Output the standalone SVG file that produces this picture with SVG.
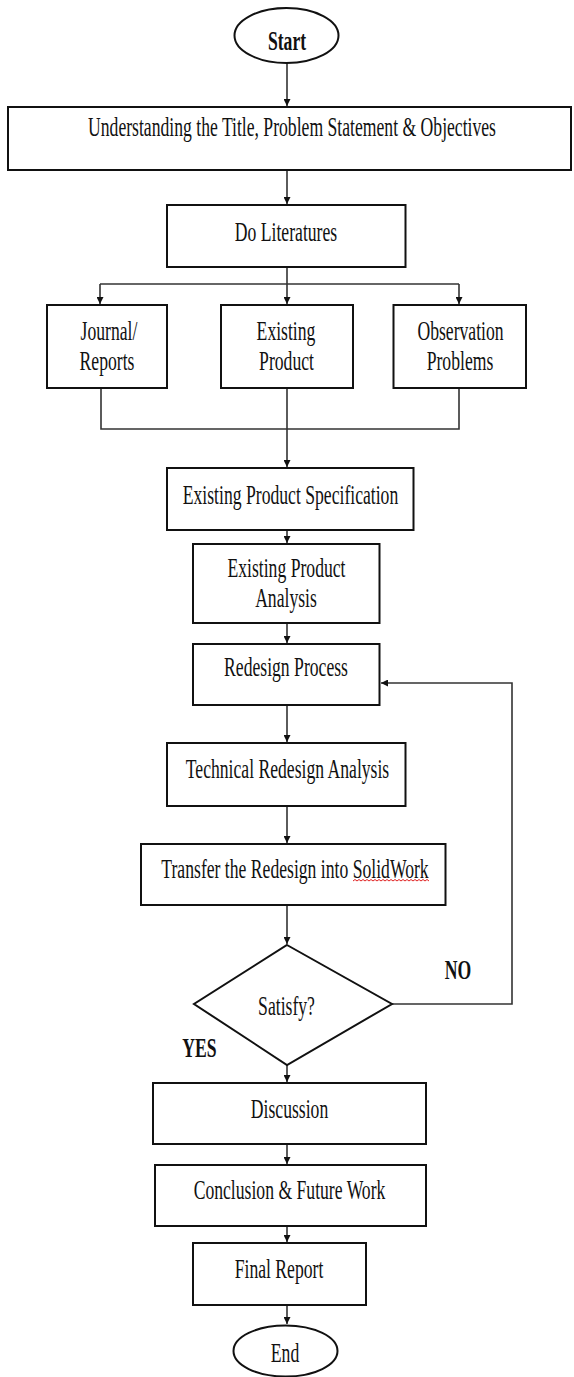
<svg xmlns="http://www.w3.org/2000/svg" width="574" height="1377" viewBox="0 0 574 1377">
<style>
.box{fill:#fff;stroke:#111;stroke-width:2}
.t{font-family:"Liberation Serif","Times New Roman",serif;font-size:28px;fill:#111;text-anchor:middle}
.b{font-weight:bold}
.c{fill:none;stroke:#333;stroke-width:1.6}
</style>
<defs>
<marker id="ah" viewBox="0 0 8 8" refX="8" refY="4" markerWidth="7" markerHeight="7" markerUnits="userSpaceOnUse" orient="auto">
<path d="M0,0 L8,4 L0,8 z" fill="#111"/>
</marker>
</defs>
<rect width="574" height="1377" fill="#fff"/>
<g id="connectors">
<line class="c" x1="287" y1="63" x2="287" y2="106" marker-end="url(#ah)"/>
<line class="c" x1="287" y1="170" x2="287" y2="204" marker-end="url(#ah)"/>
<polyline class="c" points="287,267 287,284"/>
<line class="c" x1="100" y1="284" x2="459" y2="284"/>
<line class="c" x1="100" y1="284" x2="100" y2="304" marker-end="url(#ah)"/>
<line class="c" x1="287" y1="284" x2="287" y2="304" marker-end="url(#ah)"/>
<line class="c" x1="459" y1="284" x2="459" y2="304" marker-end="url(#ah)"/>
<polyline class="c" points="101,388 101,429 459,429 459,388"/>
<line class="c" x1="287" y1="388" x2="287" y2="467" marker-end="url(#ah)"/>
<line class="c" x1="287" y1="530" x2="287" y2="543" marker-end="url(#ah)"/>
<line class="c" x1="287" y1="623" x2="287" y2="643" marker-end="url(#ah)"/>
<line class="c" x1="287" y1="705" x2="287" y2="742" marker-end="url(#ah)"/>
<line class="c" x1="287" y1="806" x2="287" y2="843" marker-end="url(#ah)"/>
<line class="c" x1="287" y1="905" x2="287" y2="944" marker-end="url(#ah)"/>
<line class="c" x1="287" y1="1065" x2="287" y2="1082" marker-end="url(#ah)"/>
<line class="c" x1="287" y1="1144" x2="287" y2="1164" marker-end="url(#ah)"/>
<line class="c" x1="287" y1="1226" x2="287" y2="1242" marker-end="url(#ah)"/>
<line class="c" x1="287" y1="1305" x2="287" y2="1324" marker-end="url(#ah)"/>
<polyline class="c" points="392,1004 512,1004 512,683 381,683" marker-end="url(#ah)"/>
</g>
<g id="start">
<ellipse class="box" cx="286.5" cy="35.5" rx="52" ry="27.5"/>
<text class="t b" transform="translate(287,50) scale(0.63,1)">Start</text>
</g>
<g id="understanding">
<rect class="box" x="8" y="107" width="563" height="63"/>
<text class="t" transform="translate(292,136) scale(0.63,1)">Understanding the Title, Problem Statement &amp; Objectives</text>
</g>
<g id="literatures">
<rect class="box" x="167" y="205" width="238.5" height="62"/>
<text class="t" transform="translate(286,241) scale(0.63,1)">Do Literatures</text>
</g>
<g id="journal">
<rect class="box" x="47" y="305" width="120" height="83"/>
<text class="t" transform="translate(109,340) scale(0.63,1)">Journal/</text>
<text class="t" transform="translate(107,370) scale(0.63,1)">Reports</text>
</g>
<g id="existing">
<rect class="box" x="221" y="305" width="132" height="83"/>
<text class="t" transform="translate(286,340) scale(0.63,1)">Existing</text>
<text class="t" transform="translate(286.5,370) scale(0.63,1)">Product</text>
</g>
<g id="observation">
<rect class="box" x="393.5" y="305" width="132.5" height="83"/>
<text class="t" transform="translate(460.5,340) scale(0.63,1)">Observation</text>
<text class="t" transform="translate(460,370) scale(0.63,1)">Problems</text>
</g>
<g id="specification">
<rect class="box" x="167" y="468" width="246.5" height="62"/>
<text class="t" transform="translate(290.5,504) scale(0.63,1)">Existing Product Specification</text>
</g>
<g id="analysis">
<rect class="box" x="193" y="544" width="186.5" height="79"/>
<text class="t" transform="translate(286.5,577) scale(0.63,1)">Existing Product</text>
<text class="t" transform="translate(286,607) scale(0.63,1)">Analysis</text>
</g>
<g id="redesign">
<rect class="box" x="193" y="644" width="186.5" height="61"/>
<text class="t" transform="translate(286,676) scale(0.63,1)">Redesign Process</text>
</g>
<g id="technical">
<rect class="box" x="167" y="743" width="238.5" height="63"/>
<text class="t" transform="translate(287.5,778) scale(0.63,1)">Technical Redesign Analysis</text>
</g>
<g id="transfer">
<rect class="box" x="141" y="844" width="304.5" height="61"/>
<text class="t" transform="translate(295,878) scale(0.63,1)">Transfer the Redesign into SolidWork</text>
<path d="M353,881 l2,-1.5 l2,1.5 l2,-1.5 l2,1.5 l2,-1.5 l2,1.5 l2,-1.5 l2,1.5 l2,-1.5 l2,1.5 l2,-1.5 l2,1.5 l2,-1.5 l2,1.5 l2,-1.5 l2,1.5 l2,-1.5 l2,1.5 l2,-1.5 l2,1.5 l2,-1.5 l2,1.5 l2,-1.5 l2,1.5 l2,-1.5 l2,1.5 l2,-1.5 l2,1.5 l2,-1.5 l2,1.5 l2,-1.5 l2,1.5 l2,-1.5 l2,1.5 l2,-1.5 l2,1.5 l2,-1.5 l2,1.5" fill="none" stroke="#e02020" stroke-width="1"/>
</g>
<g id="satisfy">
<polygon class="box" points="287,945 392,1004 287,1065 194,1004"/>
<text class="t" transform="translate(286.5,1015) scale(0.63,1)">Satisfy?</text>
</g>
<g id="labels">
<text class="t b" transform="translate(458,979) scale(0.63,1)">NO</text>
<text class="t b" transform="translate(199.5,1057) scale(0.63,1)">YES</text>
</g>
<g id="discussion">
<rect class="box" x="153" y="1083" width="273" height="61"/>
<text class="t" transform="translate(289.5,1118) scale(0.63,1)">Discussion</text>
</g>
<g id="conclusion">
<rect class="box" x="155" y="1165" width="271" height="61"/>
<text class="t" transform="translate(289.5,1199) scale(0.63,1)">Conclusion &amp; Future Work</text>
</g>
<g id="final">
<rect class="box" x="193" y="1243" width="173" height="62"/>
<text class="t" transform="translate(279,1278) scale(0.63,1)">Final Report</text>
</g>
<g id="end">
<ellipse class="box" cx="285.5" cy="1351" rx="52" ry="25.5"/>
<text class="t" transform="translate(285,1362) scale(0.63,1)">End</text>
</g>
</svg>
